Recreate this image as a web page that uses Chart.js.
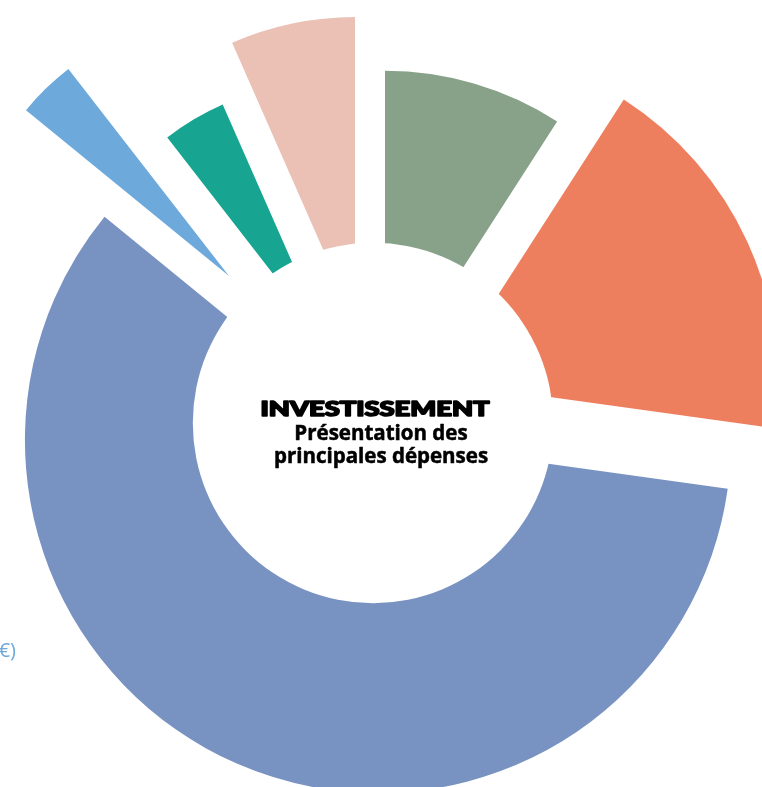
<!DOCTYPE html>
<html lang="fr">
<head>
<meta charset="utf-8">
<title>Investissement</title>
<script src="https://cdn.jsdelivr.net/npm/chart.js@4.4.1/dist/chart.umd.min.js"></script>
<style>
  html, body { margin: 0; padding: 0; background: #fff; }
  #wrap { position: relative; width: 762px; height: 787px; overflow: hidden; }
</style>
</head>
<body>
<div id="wrap"><canvas id="invest-chart"></canvas></div>
<script>
// Investment spending, slices clockwise from 12 o'clock
const categories = ['Poste 1', 'Poste 2', 'Poste 3', 'Poste 4', 'Poste 5', 'Poste 6'];
const shares = [9.1, 18.1, 58.7, 3.6, 3.9, 6.6];       // % of total -> slice angle
const lengths = [87.4, 92.3, 97.0, 72.0, 72.5, 83.8];   // radial length on a 0-100 scale
const colors = ['#87a289', '#ee7f5e', '#7893c2', '#6da9db', '#17a592', '#ecc1b5'];

// how far each slice is pulled away from the centre (px)
const pullX = [12, 69, 5, -144, -44, -18];
const pullY = [-34, -41, 17, -147, -77, -101];

const title = 'INVESTISSEMENT';
const subtitle = ['Présentation des', 'principales dépenses'];
const sideNote = '€)';

// polar area where every slice can be pulled out on its own
class PulledPolarController extends Chart.PolarAreaController {
  updateElement(element, index, properties, mode) {
    if (properties && properties.x !== undefined) {
      const ds = this.getDataset();
      properties.x += (ds.pullX || [])[index] || 0;
      properties.y += (ds.pullY || [])[index] || 0;
    }
    super.updateElement(element, index, properties, mode);
  }
}
PulledPolarController.id = 'pulledPolar';
PulledPolarController.defaults = Chart.PolarAreaController.defaults;
PulledPolarController.overrides = Chart.PolarAreaController.overrides;
Chart.register(PulledPolarController);

// white hole + centre text
const centreLabel = {
  id: 'centreLabel',
  afterDatasetsDraw(chart, args, opts) {
    const { ctx } = chart;
    const r = chart.scales.r;
    const cx = r.xCenter;
    const cy = r.yCenter;

    ctx.save();
    ctx.fillStyle = '#fff';
    ctx.beginPath();
    ctx.arc(cx, cy, r.drawingArea * opts.hole, 0, Math.PI * 2);
    ctx.fill();

    ctx.fillStyle = '#000';
    ctx.strokeStyle = '#000';
    ctx.lineJoin = 'round';
    ctx.textAlign = 'center';
    ctx.textBaseline = 'alphabetic';

    // heavy wide title (thickened with a stroke)
    ctx.font = '900 20px Lato';
    const w = ctx.measureText(title).width;
    ctx.save();
    ctx.translate(cx + 2, cy - 7);
    ctx.scale(opts.titleWidth / w, 1);
    ctx.lineWidth = 1.6;
    ctx.strokeText(title, 0, 0);
    ctx.fillText(title, 0, 0);
    ctx.restore();

    ctx.font = '700 20.5px "Open Sans"';
    ctx.lineWidth = 0.5;
    subtitle.forEach((line, i) => {
      ctx.strokeText(line, cx + 8, cy + 16.5 + i * 23.5);
      ctx.fillText(line, cx + 8, cy + 16.5 + i * 23.5);
    });

    ctx.fillStyle = colors[3];
    ctx.textAlign = 'right';
    ctx.font = '400 20px "Open Sans"';
    ctx.fillText(sideNote, 16, 657);
    ctx.restore();
  }
};

new Chart(document.getElementById('invest-chart'), {
  type: 'pulledPolar',
  data: {
    labels: categories,
    datasets: [{
      data: lengths,
      angle: shares.map(s => s * 3.6),
      backgroundColor: colors,
      borderWidth: 0,
      pullX: pullX,
      pullY: pullY
    }]
  },
  options: {
    responsive: true,
    maintainAspectRatio: false,
    animation: false,
    events: [],
    layout: { padding: { top: 59, right: 16, bottom: 0, left: 0 } },
    scales: {
      r: { display: false, min: 0, max: 100, startAngle: 0 }
    },
    plugins: {
      legend: { display: false },
      tooltip: { enabled: false },
      centreLabel: { hole: 0.495, titleWidth: 229 }
    }
  },
  plugins: [centreLabel]
});
</script>
</body>
</html>
